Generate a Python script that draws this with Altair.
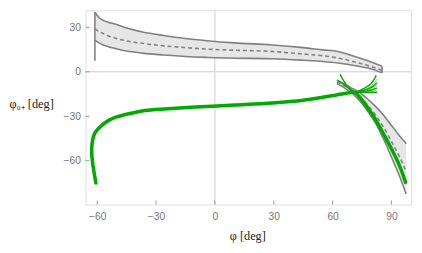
import altair as alt
import pandas as pd

# ---------------- data ----------------
# upper band (phi in deg)
up_phi = [-61.2, -59, -57, -54, -51, -45, -37, -26, -15, -4, 10, 29.3, 45, 55, 62.7, 71, 78, 85.2]
up_hi = [40.2, 36.5, 34.7, 33.3, 32.2, 29.5, 26.9, 24.5, 22.5, 21.0, 19.5, 18.1, 16.3, 14.8, 13.7, 10.5, 7.5, 3.8]
up_mid = [29.0, 27.2, 25.8, 24.0, 22.8, 20.8, 19.2, 17.5, 16.3, 15.3, 14.6, 13.7, 12.0, 10.8, 9.3, 6.8, 4.2, 1.1]
up_lo = [21.4, 19.5, 18.1, 16.8, 15.8, 14.0, 12.6, 11.3, 10.3, 9.7, 9.2, 8.8, 7.8, 7.0, 6.0, 4.3, 2.5, -0.7]

# lower-right band
rb_phi = [62.2, 66, 70, 74, 78, 82, 86, 90, 94, 97.5]
rb_hi = [-5.7, -8.2, -11.2, -14.2, -18.5, -23.5, -29.3, -36.2, -43.0, -48.5]
rb_mid = [-6.8, -9.4, -12.8, -17.0, -22.5, -29.5, -37.5, -47.0, -57.0, -67.0]
rb_lo = [-7.9, -10.8, -14.6, -19.8, -26.8, -35.0, -45.5, -57.5, -70.0, -82.5]

# vertical edges of the upper band
edge_phi = [-61.2, 85.2]
edge_top = [40.2, 3.8]
edge_bot = [7.5, -0.7]

# main (thick) green curve, in drawing order
gm_phi = [-60.7, -61.6, -62.4, -62.8, -62.7, -62.2, -61.2, -59.8, -58.2, -56, -53.7, -50.5, -47, -42,
          -34.5, -20, -4.5, 10, 29.3, 45, 54.3, 62, 69.3, 71.3, 74, 78, 82, 86, 90, 94, 97.2]
gm_val = [-75, -68, -61, -55, -49.5, -45, -41.4, -38.8, -36.8, -34.4, -32.4, -30.6, -29.3, -27.8,
          -26, -24.6, -23.4, -22.4, -21.0, -19.2, -17.4, -15.6, -13.9, -13.9, -17.5, -24.5, -32.5, -42, -52, -63, -74.6]

# thin green branches near the crossing
br_a_phi = [63.8, 65.5, 68, 71.3, 73]
br_a_val = [-1.7, -5.8, -10.3, -13.9, -16.5]
br_b_phi = [62.8, 66, 69, 71.3]
br_b_val = [-6.0, -8.8, -12.0, -13.9]
fan1_phi = [71.3, 74, 77, 79.5, 81.3, 82.2]
fan1_val = [-13.9, -12.5, -10.5, -8.0, -5.0, -2.4]
fan2_phi = [71.3, 75, 78.5, 81, 82.5]
fan2_val = [-13.9, -12.8, -11.2, -9.5, -7.5]
fan3_phi = [71.3, 76, 79.5, 82.5]
fan3_val = [-13.9, -13.2, -12.3, -11.0]
fan4_phi = [71.3, 76, 80, 82.7]
fan4_val = [-13.9, -13.8, -13.8, -14.0]
fill_phi = [77, 78.5, 80, 81.5, 82.5]
fill_top = [-11.5, -10.3, -8.8, -6.5, -4.5]
fill_bot = [-13.6, -13.6, -13.8, -13.9, -14.0]

x_ticks = [-60, -30, 0, 30, 60, 90]
y_ticks = [-60, -30, 0, 30]

# ---------------- layout ----------------
W, H = 332, 198
GRAY = "#808080"
BANDFILL = "#e6e6e6"
GREEN = "#00aa00"

xs = alt.Scale(domain=[-66, 100], nice=False, zero=False)
ys = alt.Scale(domain=[-89.5, 41.5], nice=False, zero=False)

xaxis = alt.Axis(values=x_ticks, ticks=False, domain=False, grid=False, labelPadding=7,
                 labelFont="Liberation Sans", labelFontSize=10.5, labelColor="#777777",
                 title="φ [deg]", titleFont="Liberation Serif", titleFontSize=12.5,
                 titleFontWeight="normal", titleColor="#222222", titleAlign="center",
                 titleX=165, titleY=35.5, titleBaseline="alphabetic")
yaxis = alt.Axis(values=y_ticks, ticks=False, domain=False, grid=False, labelPadding=5,
                 labelFont="Liberation Sans", labelFontSize=10.5, labelColor="#777777",
                 title="φ₀₊ [deg]", titleFont="Liberation Serif", titleFontSize=12.5,
                 titleFontWeight="normal", titleColor="#222222", titleAngle=0,
                 titleAlign="left", titleX=-78, titleY=99, titleBaseline="alphabetic")


def X(f):
    return alt.X(f, type="quantitative", scale=xs, axis=xaxis)


def Y(f):
    return alt.Y(f, type="quantitative", scale=ys, axis=yaxis)


def long(curves):
    rows = []
    for name, ph, vv in curves:
        for i, (p, v) in enumerate(zip(ph, vv)):
            rows.append({"curve": name, "i": i, "phi": p, "val": v})
    return pd.DataFrame(rows)


zero = pd.DataFrame({"v": [0]})
upband = pd.DataFrame({"phi": up_phi, "hi": up_hi, "lo": up_lo})
rband = pd.DataFrame({"phi": rb_phi, "hi": rb_hi, "lo": rb_lo})
solid = long([("uh", up_phi, up_hi), ("ul", up_phi, up_lo), ("rh", rb_phi, rb_hi), ("rl", rb_phi, rb_lo)])
dashed = long([("um", up_phi, up_mid), ("rm", rb_phi, rb_mid)])
edges = pd.DataFrame({"phi": edge_phi, "top": edge_top, "bot": edge_bot})
gmain = long([("m", gm_phi, gm_val)])
gthin = long([("a", br_a_phi, br_a_val), ("b", br_b_phi, br_b_val), ("f1", fan1_phi, fan1_val),
              ("f2", fan2_phi, fan2_val), ("f3", fan3_phi, fan3_val), ("f4", fan4_phi, fan4_val)])
gfill = pd.DataFrame({"phi": fill_phi, "top": fill_top, "bot": fill_bot})
xt = pd.DataFrame({"t": x_ticks})
yt = pd.DataFrame({"t": y_ticks})

zx = alt.Chart(zero).mark_rule(color="#cccccc", strokeWidth=1).encode(x=X("v"))
zy = alt.Chart(zero).mark_rule(color="#cccccc", strokeWidth=1).encode(y=Y("v"))

a1 = alt.Chart(upband).mark_area(color=BANDFILL, opacity=1, interpolate="monotone").encode(
    x=X("phi"), y=Y("hi"), y2="lo")
a2 = alt.Chart(rband).mark_area(color=BANDFILL, opacity=1, interpolate="monotone").encode(
    x=X("phi"), y=Y("hi"), y2="lo")

sl = alt.Chart(solid).mark_line(color=GRAY, strokeWidth=1.6, interpolate="monotone").encode(
    x=X("phi"), y=Y("val"), detail="curve:N", order="i:Q")
dl = alt.Chart(dashed).mark_line(color=GRAY, strokeWidth=1.6, strokeDash=[4, 3], interpolate="monotone").encode(
    x=X("phi"), y=Y("val"), detail="curve:N", order="i:Q")
ed = alt.Chart(edges).mark_rule(color=GRAY, strokeWidth=1.6).encode(x=X("phi"), y=Y("top"), y2="bot")

gf = alt.Chart(gfill).mark_area(color="#66cc66", opacity=0.45, interpolate="monotone").encode(
    x=X("phi"), y=Y("top"), y2="bot")
gt = alt.Chart(gthin).mark_line(color=GREEN, strokeWidth=1.4, interpolate="catmull-rom").encode(
    x=X("phi"), y=Y("val"), detail="curve:N", order="i:Q")
gm = alt.Chart(gmain).mark_line(color=GREEN, strokeWidth=3.6, strokeCap="round", strokeJoin="round",
                                interpolate="catmull-rom").encode(
    x=X("phi"), y=Y("val"), order="i:Q")

tx = alt.Chart(xt).mark_rule(color="#999999", strokeWidth=1).encode(
    x=X("t"), y=alt.value(H), y2=alt.value(H - 4))
ty = alt.Chart(yt).mark_rule(color="#999999", strokeWidth=1).encode(
    y=Y("t"), x=alt.value(0), x2=alt.value(4))

chart = alt.layer(zx, zy, a1, a2, sl, dl, ed, gf, gt, gm, tx, ty).properties(
    width=W, height=H,
    autosize=alt.AutoSizeParams(type="none"),
    padding={"left": 79, "top": 0, "right": 3, "bottom": 39},
).configure_view(stroke="#999999", strokeWidth=1).configure(background="white")

chart.save("out.html", embed_options={"renderer": "svg", "actions": False})
